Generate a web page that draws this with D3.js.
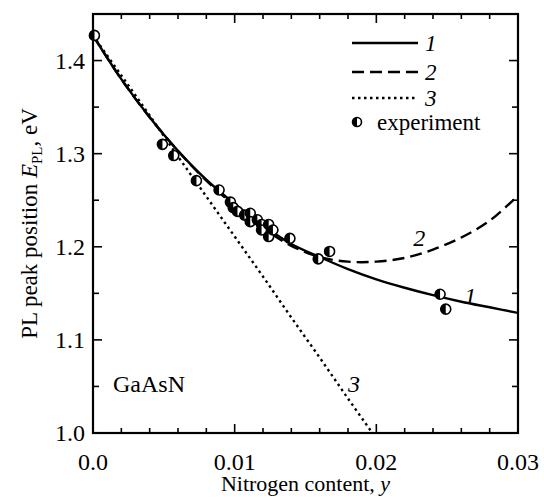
<!DOCTYPE html>
<html>
<head>
<meta charset="utf-8">
<script src="https://cdn.jsdelivr.net/npm/d3@7"></script>
<style>
  body { margin: 0; background: #fff; }
</style>
</head>
<body>
<div id="chart"></div>
<script>
var width  = 544;
var height = 498;
var FONT = "Liberation Serif";

// curve 1 (solid)
var curve1X = [0, 0.002, 0.004, 0.006, 0.008, 0.010, 0.012, 0.014, 0.016, 0.018, 0.020, 0.022, 0.024, 0.026, 0.028, 0.030];
var curve1Y = [1.427, 1.380, 1.339, 1.303, 1.272, 1.246, 1.223, 1.203, 1.189, 1.176, 1.165, 1.156, 1.148, 1.141, 1.135, 1.129];
// curve 2 (dashed)
var curve2X = [0, 0.002, 0.004, 0.006, 0.008, 0.010, 0.012, 0.014, 0.016, 0.018, 0.020, 0.022, 0.024, 0.026, 0.028, 0.030];
var curve2Y = [1.427, 1.380, 1.339, 1.303, 1.271, 1.244, 1.220, 1.201, 1.189, 1.184, 1.184, 1.188, 1.197, 1.210, 1.228, 1.255];
// curve 3 (dotted)
var curve3X = [0, 0.002, 0.004, 0.006, 0.008, 0.010, 0.012, 0.014, 0.016, 0.018, 0.020];
var curve3Y = [1.427, 1.384, 1.341, 1.297, 1.254, 1.211, 1.168, 1.124, 1.081, 1.037, 0.994];

// experiment
var expX = [0.0001, 0.0049, 0.0057, 0.0073, 0.0089, 0.0097, 0.0099, 0.0102, 0.0107, 0.0111, 0.0111, 0.0116, 0.0119, 0.0119, 0.0124, 0.0124, 0.0127, 0.0139, 0.0159, 0.0167, 0.0245, 0.0249];
var expY = [1.427, 1.310, 1.298, 1.271, 1.261, 1.248, 1.242, 1.238, 1.234, 1.236, 1.227, 1.229, 1.224, 1.218, 1.224, 1.211, 1.218, 1.209, 1.187, 1.195, 1.149, 1.133];

var xTicks = [0, 0.01, 0.02, 0.03];
var xTickLabels = ["0.0", "0.01", "0.02", "0.03"];
var yTicks = [1.0, 1.1, 1.2, 1.3, 1.4];
var yTickLabels = ["1.0", "1.1", "1.2", "1.3", "1.4"];

var legendLabels = ["1", "2", "3"];
var legendDash = ["none", "12,6", "2.5,3.5"];

var margin = {left: 93, top: 14, right: 26, bottom: 65};
var plotW = width - margin.left - margin.right;
var plotH = height - margin.top - margin.bottom;

var svg = d3.select("#chart").append("svg")
  .attr("width", width)
  .attr("height", height)
  .attr("font-family", FONT);

var x = d3.scaleLinear().domain([0, 0.03]).range([margin.left, margin.left + plotW]);
var y = d3.scaleLinear().domain([1.0, 1.45]).range([margin.top + plotH, margin.top]);

svg.append("clipPath").attr("id", "clip")
  .append("rect")
  .attr("x", margin.left).attr("y", margin.top)
  .attr("width", plotW).attr("height", plotH);

// little helper so every text gets the serif font
function label(parent, px, py, size, str) {
  return parent.append("text")
    .attr("x", px).attr("y", py)
    .attr("font-family", FONT)
    .attr("font-size", size)
    .attr("fill", "#000")
    .text(str);
}

// ticks, inward on all four sides
function drawTicks() {
  var xMinor = d3.range(0, 0.0301, 0.002);
  var yMinor = d3.range(1.0, 1.451, 0.05);
  var g = svg.append("g").attr("stroke", "#000").attr("stroke-width", 1.6);
  xMinor.forEach(function(v) {
    var major = xTicks.some(function(t) { return Math.abs(t - v) < 1e-6; });
    var len = major ? 9 : 5;
    g.append("line").attr("x1", x(v)).attr("x2", x(v))
      .attr("y1", y(1.0)).attr("y2", y(1.0) - len);
    g.append("line").attr("x1", x(v)).attr("x2", x(v))
      .attr("y1", y(1.45)).attr("y2", y(1.45) + len);
  });
  yMinor.forEach(function(v) {
    var major = yTicks.some(function(t) { return Math.abs(t - v) < 1e-6; });
    var len = major ? 9 : 6;
    g.append("line").attr("y1", y(v)).attr("y2", y(v))
      .attr("x1", x(0)).attr("x2", x(0) + len);
    g.append("line").attr("y1", y(v)).attr("y2", y(v))
      .attr("x1", x(0.03)).attr("x2", x(0.03) - len);
  });
}
drawTicks();

// tick labels
xTicks.forEach(function(d, i) {
  label(svg, x(d), 470, 24, xTickLabels[i]).attr("text-anchor", "middle");
});
yTicks.forEach(function(d, i) {
  label(svg, 85, y(d) + 8, 24, yTickLabels[i]).attr("text-anchor", "end");
});

// axis titles
var xt = label(svg, x(0.015), 491, 22, "").attr("text-anchor", "middle");
xt.append("tspan").text("Nitrogen content, ");
xt.append("tspan").attr("font-style", "italic").text("y");

var yt = label(svg, 0, 0, 23, "")
  .attr("transform", "translate(37," + y(1.225) + ") rotate(-90)")
  .attr("text-anchor", "middle");
yt.append("tspan").text("PL peak position ");
yt.append("tspan").attr("font-style", "italic").text("E");
yt.append("tspan").attr("dy", 5).attr("font-size", 15).text("PL");
yt.append("tspan").attr("dy", -5).text(", eV");

// curves
function drawCurve(xs, ys, dash) {
  var pts = xs.map(function(v, i) { return [v, ys[i]]; });
  var line = d3.line()
    .x(function(d) { return x(d[0]); })
    .y(function(d) { return y(d[1]); })
    .curve(d3.curveCatmullRom);
  svg.append("path")
    .datum(pts)
    .attr("clip-path", "url(#clip)")
    .attr("fill", "none")
    .attr("stroke", "#000")
    .attr("stroke-width", 2.4)
    .attr("stroke-dasharray", dash)
    .attr("d", line);
}
drawCurve(curve3X, curve3Y, legendDash[2]);
drawCurve(curve2X, curve2Y, legendDash[1]);
drawCurve(curve1X, curve1Y, legendDash[0]);

// half filled marker
function halfCircle(g, cx, cy, r) {
  g.append("circle").attr("cx", cx).attr("cy", cy).attr("r", r)
    .attr("fill", "#fff").attr("stroke", "#000").attr("stroke-width", 1.6);
  g.append("path")
    .attr("d", "M" + cx + "," + (cy - r) + " A" + r + "," + r + " 0 0,0 " + cx + "," + (cy + r) + " Z")
    .attr("fill", "#000");
}

var pg = svg.append("g");
expX.forEach(function(v, i) {
  halfCircle(pg, x(v), y(expY[i]), 5);
});

// curve labels
var curveLabels = [
  {t: "1", px: x(0.0262), py: 304},
  {t: "2", px: x(0.0226), py: 246},
  {t: "3", px: x(0.0180), py: 392}
];
curveLabels.forEach(function(c) {
  label(svg, c.px, c.py, 24, c.t).attr("font-style", "italic");
});

// legend
var legY = [43, 72, 98];
legendLabels.forEach(function(l, i) {
  svg.append("line")
    .attr("x1", 352).attr("x2", 418)
    .attr("y1", legY[i]).attr("y2", legY[i])
    .attr("stroke", "#000").attr("stroke-width", 2.4)
    .attr("stroke-dasharray", legendDash[i]);
  label(svg, 425, legY[i] + 8, 23, l).attr("font-style", "italic");
});
halfCircle(svg, 357, 122, 4.5);
label(svg, 377, 130, 23, "experiment");

label(svg, 113, 392, 24, "GaAsN");

// frame
svg.append("rect")
  .attr("x", margin.left).attr("y", margin.top)
  .attr("width", plotW).attr("height", plotH)
  .attr("fill", "none").attr("stroke", "#000").attr("stroke-width", 2.2);
</script>
</body>
</html>
